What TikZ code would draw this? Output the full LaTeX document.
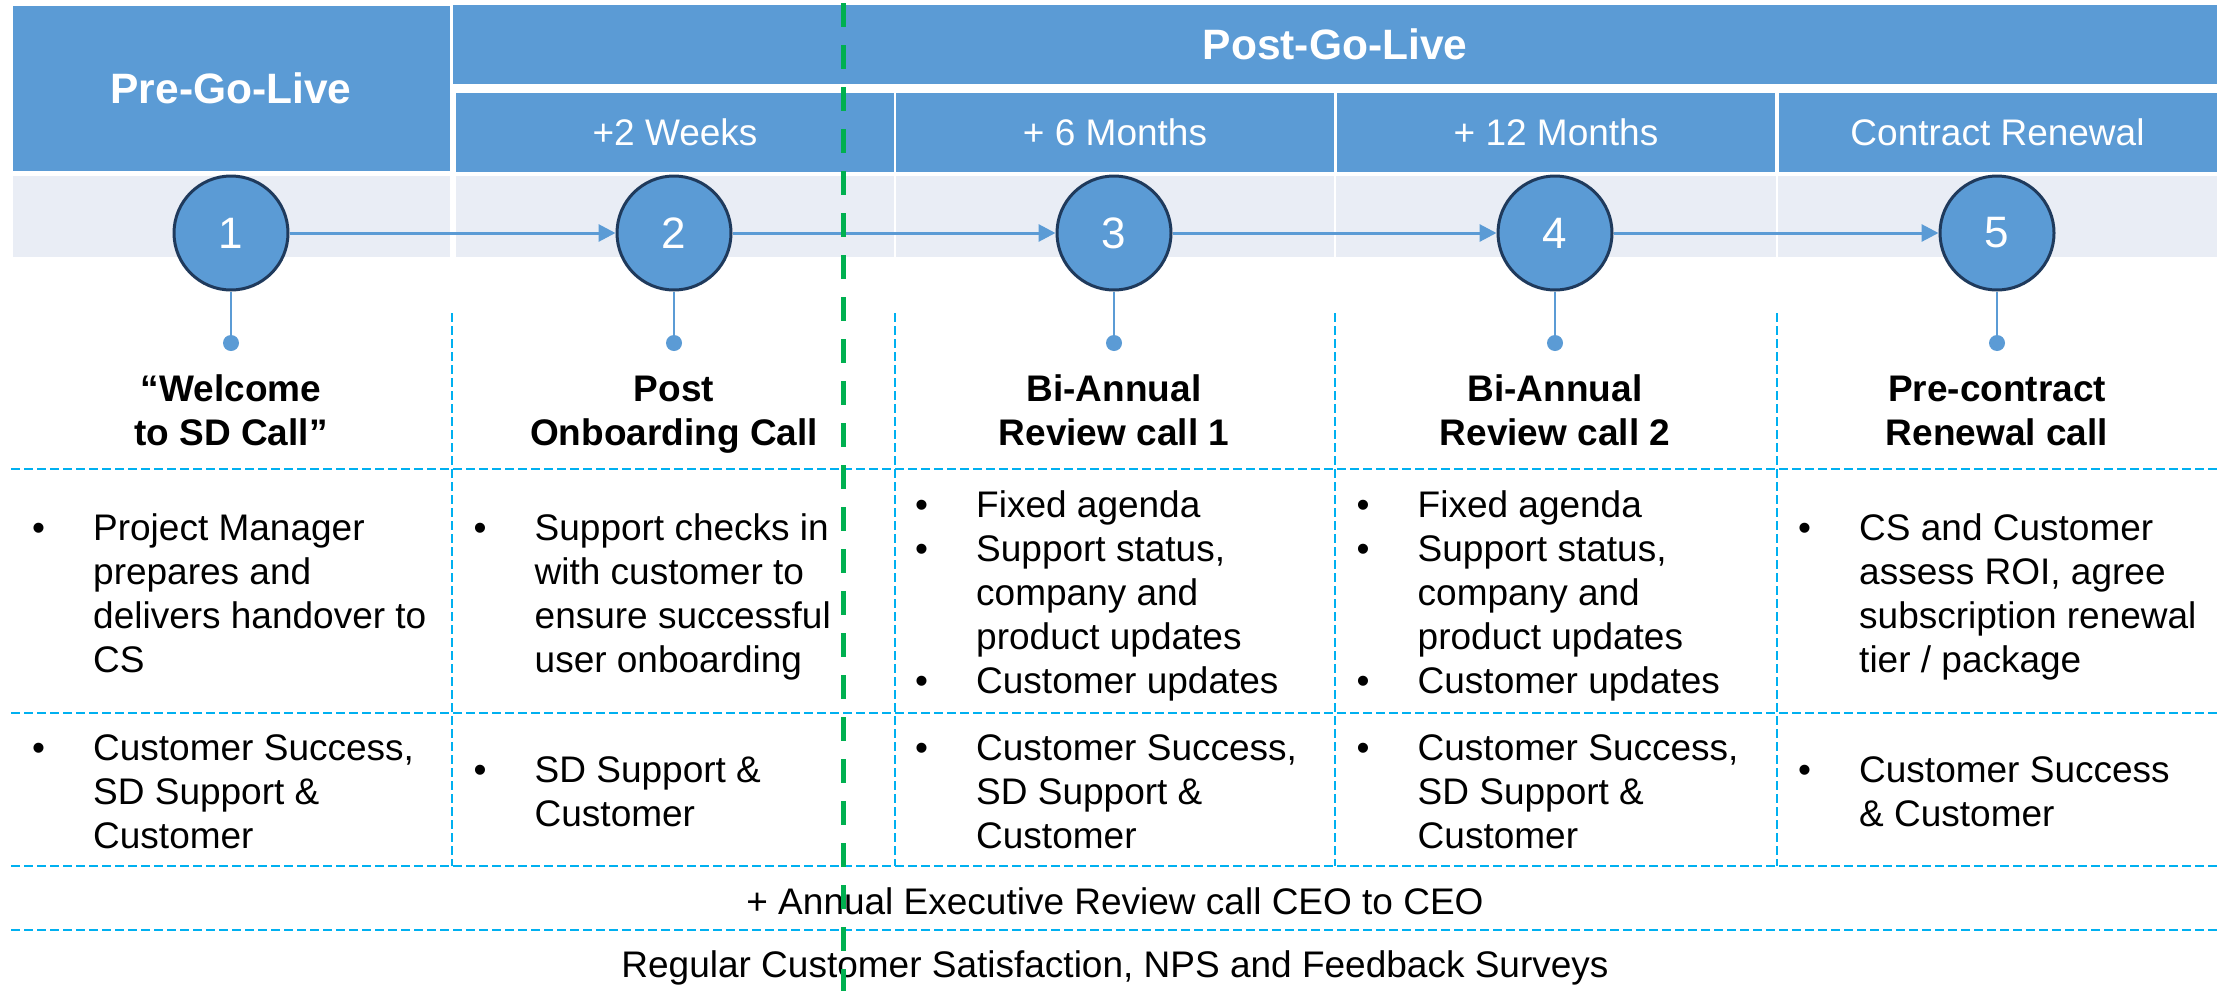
\documentclass[tikz,border=0pt]{standalone}
\usepackage{fontspec}
\setmainfont{Liberation Sans}
\usetikzlibrary{arrows.meta}
\definecolor{hdrblue}{HTML}{5B9BD5}
\definecolor{bandblue}{HTML}{E9EDF5}
\definecolor{navy}{HTML}{1F3A5C}
\definecolor{cyanline}{HTML}{00B0F0}
\definecolor{greenline}{HTML}{00B050}
\begin{document}
\begin{tikzpicture}[x=1pt,y=-1pt,
 hdr/.style={fill=hdrblue, draw=none, text=white, inner sep=0pt},
 bandcell/.style={fill=bandblue, draw=none},
 stepcirc/.style={circle, fill=hdrblue, draw=navy, line width=3pt, minimum size=114pt, inner sep=0pt, text=white, font=\fontsize{44}{50}\selectfont},
 arr/.style={draw=hdrblue, line width=3pt, -{Triangle[length=17pt,width=17pt]}},
 conn/.style={draw=hdrblue, line width=2.5pt},
 dotnode/.style={circle, fill=hdrblue, minimum size=16pt, inner sep=0pt},
 hgrid/.style={draw=cyanline, line width=2.5pt, dash pattern=on 9pt off 4pt},
 vgrid/.style={draw=cyanline, line width=2pt, dash pattern=on 9pt off 4pt},
 golive/.style={draw=greenline, line width=5pt, dash pattern=on 23.5pt off 18.5pt},
 title/.style={inner sep=0pt, font=\fontsize{37}{44}\selectfont\bfseries},
 cell/.style={inner sep=0pt, anchor=west, font=\fontsize{37}{44}\selectfont},
 bighdr/.style={hdr, font=\fontsize{42.5}{50}\selectfont\bfseries},
 subhdr/.style={hdr, font=\fontsize{37}{44}\selectfont, minimum width=438pt, minimum height=79pt},
 foot/.style={inner sep=0pt, anchor=base, font=\fontsize{37}{44}\selectfont},
]
\useasboundingbox (0,0) rectangle (2234,991);
\fill[white] (0,0) rectangle (2234,991);

% headers
\node[bighdr, minimum width=437pt, minimum height=165pt] (pre) at (231,88.5) {Pre-Go-Live};
\node[bighdr, minimum width=1764pt, minimum height=79pt] (post) at (1335,44.5) {Post-Go-Live};
\node[subhdr] (h2) at (675,132.5) {+2 Weeks};
\node[subhdr] (h3) at (1115,132.5) {+ 6 Months};
\node[subhdr] (h4) at (1556,132.5) {+ 12 Months};
\node[subhdr] (h5) at (1997.5,132.5) {Contract Renewal};

% light band
\fill[bandcell] (12.5,176) rectangle (449.5,257);
\fill[bandcell] (456,176) rectangle (894,257);
\fill[bandcell] (896,176) rectangle (1334,257);
\fill[bandcell] (1336,176) rectangle (1776,257);
\fill[bandcell] (1778,176) rectangle (2217,257);

% grid lines
\draw[vgrid] (452,313) -- (452,866);
\draw[vgrid] (894.5,313) -- (894.5,866);
\draw[vgrid] (1335,313) -- (1335,866);
\draw[vgrid] (1777,313) -- (1777,866);
\draw[hgrid] (11,469) -- (2218,469);
\draw[hgrid] (11,713) -- (2218,713);
\draw[hgrid] (11,866) -- (2218,866);
\draw[hgrid] (11,930) -- (2218,930);

% circles and dots
\node[stepcirc] (c1) at (231,233) {1};
\node[stepcirc] (c2) at (674,233) {2};
\node[stepcirc] (c3) at (1114,233) {3};
\node[stepcirc] (c4) at (1555,233) {4};
\node[stepcirc] (c5) at (1997,233) {5};
\node[dotnode] (d1) at (231,343) {};
\node[dotnode] (d2) at (674,343) {};
\node[dotnode] (d3) at (1114,343) {};
\node[dotnode] (d4) at (1555,343) {};
\node[dotnode] (d5) at (1997,343) {};
\foreach \i in {1,...,5} {\draw[conn] (c\i.south) -- (d\i.center);}
\draw[arr] (c1.east) -- (c2.west);
\draw[arr] (c2.east) -- (c3.west);
\draw[arr] (c3.east) -- (c4.west);
\draw[arr] (c4.east) -- (c5.west);

% titles
\node[title] (t1) at (231,415) {\begin{tabular}{@{}c@{}}“Welcome\\to SD Call”\end{tabular}};
\node[title] (t2) at (674,415) {\begin{tabular}{@{}c@{}}Post\\Onboarding Call\end{tabular}};
\node[title] (t3) at (1114,415) {\begin{tabular}{@{}c@{}}Bi-Annual\\Review call 1\end{tabular}};
\node[title] (t4) at (1555,415) {\begin{tabular}{@{}c@{}}Bi-Annual\\Review call 2\end{tabular}};
\node[title] (t5) at (1997,415) {\begin{tabular}{@{}c@{}}Pre-contract\\Renewal call\end{tabular}};

% row 1
\node[cell] (a1) at (32,598) {\begin{tabular}{@{}p{61pt}@{}l@{}}\textbullet&Project Manager\\&prepares and\\&delivers handover to\\&CS\end{tabular}};
\node[cell] (a2) at (473.5,598) {\begin{tabular}{@{}p{61pt}@{}l@{}}\textbullet&Support checks in\\&with customer to\\&ensure successful\\&user onboarding\end{tabular}};
\node[cell] (a3) at (915,597) {\begin{tabular}{@{}p{61pt}@{}l@{}}\textbullet&Fixed agenda\\\textbullet&Support status,\\&company and\\&product updates\\\textbullet&Customer updates\end{tabular}};
\node[cell] (a4) at (1356.5,597) {\begin{tabular}{@{}p{61pt}@{}l@{}}\textbullet&Fixed agenda\\\textbullet&Support status,\\&company and\\&product updates\\\textbullet&Customer updates\end{tabular}};
\node[cell] (a5) at (1798,598) {\begin{tabular}{@{}p{61pt}@{}l@{}}\textbullet&CS and Customer\\&assess ROI, agree\\&subscription renewal\\&tier / package\end{tabular}};

% row 2
\node[cell] (b1) at (32,796) {\begin{tabular}{@{}p{61pt}@{}l@{}}\textbullet&Customer Success,\\&SD Support \&\\&Customer\end{tabular}};
\node[cell] (b2) at (473.5,796) {\begin{tabular}{@{}p{61pt}@{}l@{}}\textbullet&SD Support \&\\&Customer\end{tabular}};
\node[cell] (b3) at (915,796) {\begin{tabular}{@{}p{61pt}@{}l@{}}\textbullet&Customer Success,\\&SD Support \&\\&Customer\end{tabular}};
\node[cell] (b4) at (1356.5,796) {\begin{tabular}{@{}p{61pt}@{}l@{}}\textbullet&Customer Success,\\&SD Support \&\\&Customer\end{tabular}};
\node[cell] (b5) at (1798,796) {\begin{tabular}{@{}p{61pt}@{}l@{}}\textbullet&Customer Success\\&\& Customer\end{tabular}};

% footer rows
\node[foot] (f1) at (1115,914) {+ Annual Executive Review call CEO to CEO};
\node[foot] (f2) at (1115,977) {Regular Customer Satisfaction, NPS and Feedback Surveys};

% go-live marker
\coordinate (gtop) at (843,3);
\coordinate (gbot) at (843,991);
\draw[golive] (gtop) -- (gbot);
\end{tikzpicture}
\end{document}
